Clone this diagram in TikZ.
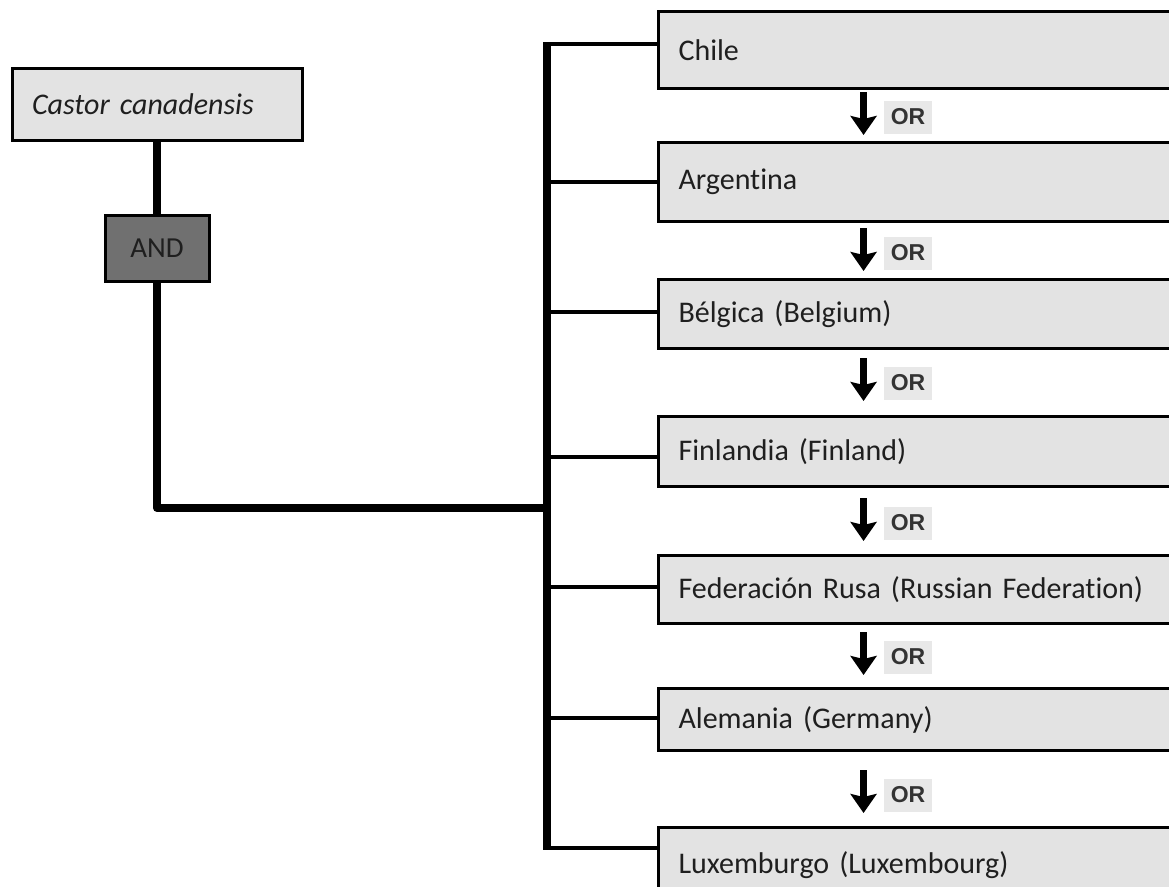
\documentclass[tikz,border=0pt]{standalone}
\usepackage{fontspec}
\setmainfont{Carlito}[Ligatures=NoCommon,WordSpace=0.8]
\newfontfamily\orfont{Liberation Sans}
\usetikzlibrary{arrows.meta,calc}
\definecolor{BoxClr}{gray}{0.89}
\definecolor{AndClr}{gray}{0.44}
\definecolor{OrClr}{gray}{0.91}
\definecolor{TxtClr}{gray}{0.12}

\begin{document}
\begin{tikzpicture}[x=1pt,y=-1pt,
  box/.style={rectangle,draw=black,line width=3pt,fill=BoxClr,inner xsep=20pt,align=left,
    text=TxtClr,font=\fontsize{30}{36}\selectfont},
  country/.style={box,anchor=north west,text width=520pt},
  andbox/.style={rectangle,draw=black,line width=3pt,fill=AndClr,
    minimum width=104pt,minimum height=66pt,text=TxtClr,font=\fontsize{29}{34}\selectfont},
  bus/.style={line width=8pt,line join=round},
  branch/.style={line width=4pt},
  orlbl/.style={fill=OrClr,text=black!80,font=\orfont\bfseries\fontsize{23}{27}\selectfont,
    inner xsep=7pt,minimum height=33pt},
  orarrow/.style={line width=7pt,-{Stealth[width=26pt,length=19pt,inset=3pt]}}]

\useasboundingbox (0,0) rectangle (1169,886);
\clip (0,0) rectangle (1169,886);

\node[box,text width=250pt,minimum height=72pt] (castor) at (157,104) {\itshape Castor canadensis};
\node[andbox] (and) at (157,248) {AND};

\node[country,minimum height=77pt] (chile) at (657,10) {Chile};
\node[country,minimum height=79pt] (argentina) at (657,141) {Argentina};
\node[country,minimum height=69pt] (belgica) at (657,278) {Bélgica (Belgium)};
\node[country,minimum height=70pt] (finlandia) at (657,415) {Finlandia (Finland)};
\node[country,minimum height=68pt] (rusia) at (657,554) {Federación Rusa (Russian Federation)};
\node[country,minimum height=62pt] (alemania) at (657,687) {Alemania (Germany)};
\node[country,minimum height=76pt] (luxemburgo) at (657,826) {Luxemburgo (Luxembourg)};

\coordinate (t1) at (547,44);
\coordinate (t2) at (547,182);
\coordinate (t3) at (547,312);
\coordinate (t4) at (547,457);
\coordinate (t5) at (547,587);
\coordinate (t6) at (547,718);
\coordinate (t7) at (547,848);
\coordinate (j) at (547,508);

\draw[bus] (castor) -- (and);
\draw[bus] (and) |- (j);
\draw[bus] ([yshift=2pt]t1) -- ([yshift=-2pt]t7);

\draw[branch] (t1) -- (t1 -| chile.west);
\draw[branch] (t2) -- (t2 -| argentina.west);
\draw[branch] (t3) -- (t3 -| belgica.west);
\draw[branch] (t4) -- (t4 -| finlandia.west);
\draw[branch] (t5) -- (t5 -| rusia.west);
\draw[branch] (t6) -- (t6 -| alemania.west);
\draw[branch] (t7) -- (t7 -| luxemburgo.west);

\node[orlbl] (or1) at (908,117) {OR};
\node[orlbl] (or2) at (908,253) {OR};
\node[orlbl] (or3) at (908,383) {OR};
\node[orlbl] (or4) at (908,523) {OR};
\node[orlbl] (or5) at (908,657) {OR};
\node[orlbl] (or6) at (908,795) {OR};

\draw[orarrow] ($(or1.west)+(-20,-25)$) -- ($(or1.west)+(-20,18)$);
\draw[orarrow] ($(or2.west)+(-20,-25)$) -- ($(or2.west)+(-20,18)$);
\draw[orarrow] ($(or3.west)+(-20,-25)$) -- ($(or3.west)+(-20,18)$);
\draw[orarrow] ($(or4.west)+(-20,-25)$) -- ($(or4.west)+(-20,18)$);
\draw[orarrow] ($(or5.west)+(-20,-25)$) -- ($(or5.west)+(-20,18)$);
\draw[orarrow] ($(or6.west)+(-20,-25)$) -- ($(or6.west)+(-20,18)$);

\end{tikzpicture}
\end{document}
